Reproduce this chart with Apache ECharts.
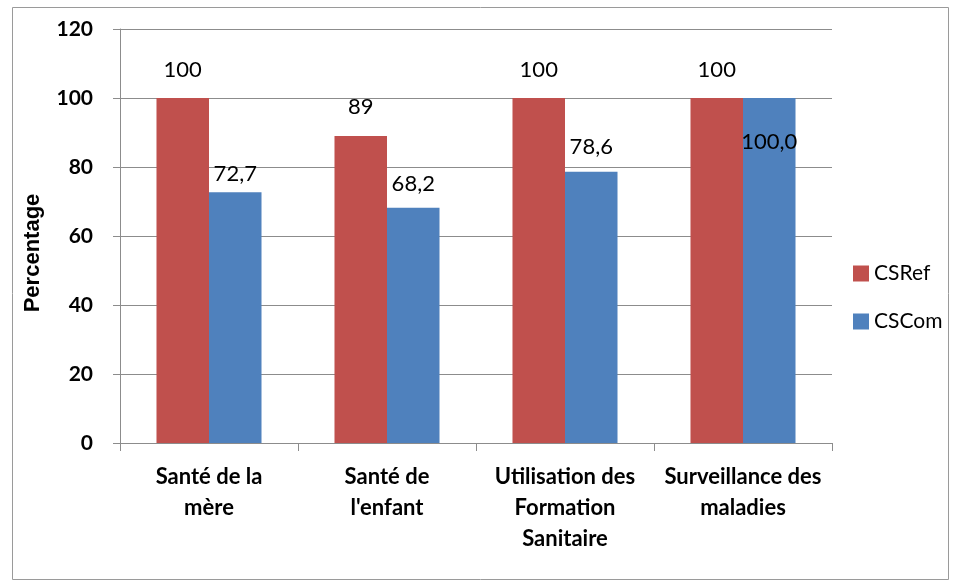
<!DOCTYPE html>
<html>
<head>
<meta charset="utf-8">
<script src="https://cdn.jsdelivr.net/npm/echarts@6/dist/echarts.min.js"></script>
<style>
  html, body { margin: 0; padding: 0; background: #fff; }
  #chart { width: 958px; height: 581px; }
</style>
</head>
<body>
<div id="chart"></div>
<script>
const categories = [
  'Santé de la\nmère',
  "Santé de\nl'enfant",
  'Utilisation des\nFormation\nSanitaire',
  'Surveillance des\nmaladies'
]
const csRef = [100, 89, 100, 100]
const csCom = [72.7, 68.2, 78.6, 100.0]
const yTicks = { min: 0, max: 120, interval: 20 }

// label placement tweaks (Excel labels were nudged by hand)
const refLabelDist = [17, 18, 17, 17]
const comLabelDist = [7, 13, 14, 33]

const font = 'Lato, "Open Sans", sans-serif'
const fmtRef = (v) => String(Math.round(v))
const fmtCom = (v) => v.toFixed(1).replace('.', ',')

const chart = echarts.init(document.getElementById('chart'))

chart.setOption({
  animation: false,
  graphic: [
    {
      type: 'rect',
      shape: { x: 12.5, y: 7.5, width: 936, height: 572 },
      style: { fill: 'none', stroke: '#9a9a9a', lineWidth: 1 },
      silent: true,
      z: -1,
    },
  ],
  grid: { left: 120, right: 126, top: 29, bottom: 138 },
  legend: {
    orient: 'vertical',
    left: 848,
    top: 258,
    itemWidth: 16,
    itemHeight: 16,
    itemGap: 27,
    icon: 'rect',
    textStyle: { fontFamily: font, fontSize: 21, lineHeight: 21, color: '#000' },
    data: ['CSRef', 'CSCom'],
  },
  xAxis: {
    type: 'category',
    data: categories,
    axisLine: { lineStyle: { color: '#8c8c8c' } },
    axisTick: { show: true, length: 8, alignWithLabel: false, lineStyle: { color: '#8c8c8c' } },
    axisLabel: {
      interval: 0,
      color: '#000',
      fontFamily: font,
      fontWeight: 'bold',
      fontSize: 22,
      lineHeight: 31,
      margin: 18,
    },
  },
  yAxis: {
    type: 'value',
    min: yTicks.min,
    max: yTicks.max,
    interval: yTicks.interval,
    name: 'Percentage',
    nameLocation: 'middle',
    nameRotate: 90,
    nameGap: 76,
    nameTextStyle: {
      fontFamily: '"Liberation Sans", Arial, sans-serif',
      fontWeight: 'bold',
      fontSize: 22,
      color: '#000',
      padding: [0, 34, 0, 0],
    },
    axisLine: { show: true, lineStyle: { color: '#8c8c8c' } },
    axisTick: { show: true, length: 7, lineStyle: { color: '#8c8c8c' } },
    axisLabel: { color: '#000', fontFamily: font, fontWeight: 'bold', fontSize: 21, margin: 27 },
    splitLine: { lineStyle: { color: '#8c8c8c' } },
  },
  series: [
    {
      name: 'CSRef',
      type: 'bar',
      barGap: '0%',
      barCategoryGap: '41%',
      itemStyle: { color: '#C0504D' },
      data: csRef.map((v, i) => ({
        value: v,
        label: { distance: refLabelDist[i] },
      })),
      label: {
        show: true,
        position: 'top',
        color: '#000',
        fontFamily: font,
        fontSize: 22,
        formatter: (p) => fmtRef(p.value),
      },
    },
    {
      name: 'CSCom',
      type: 'bar',
      itemStyle: { color: '#4F81BD' },
      data: csCom.map((v, i) => ({
        value: v,
        label: i === 3
          ? { position: 'insideTop', distance: comLabelDist[i] }
          : { distance: comLabelDist[i] },
      })),
      label: {
        show: true,
        position: 'top',
        color: '#000',
        fontFamily: font,
        fontSize: 22,
        formatter: (p) => fmtCom(p.value),
      },
    },
  ],
})
</script>
</body>
</html>
